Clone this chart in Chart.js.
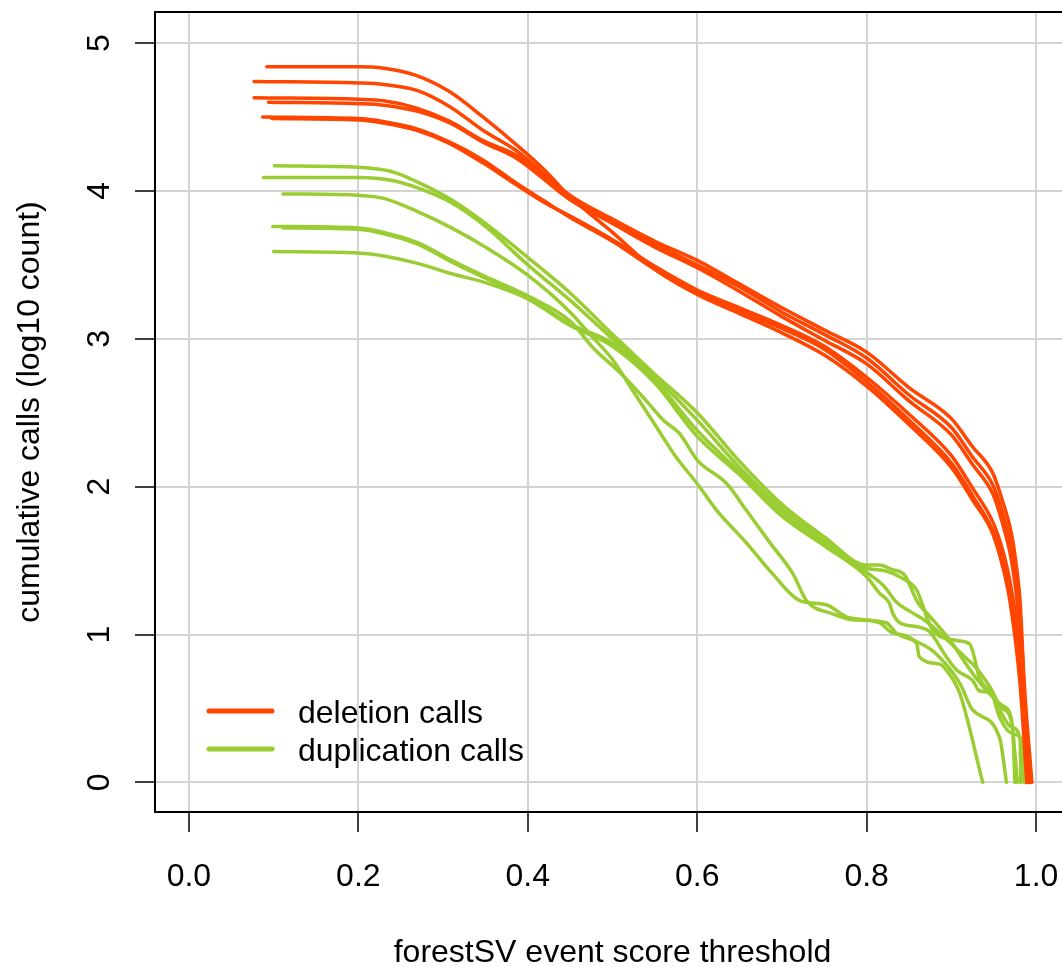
<!DOCTYPE html>
<html>
<head>
<meta charset="utf-8">
<script src="https://cdn.jsdelivr.net/npm/chart.js@4/dist/chart.umd.min.js"></script>
<style>
    html, body { margin: 0; padding: 0; background: #fff; overflow: hidden; }
    #contenedor { width: 1080px; height: 967px; }
</style>
</head>
<body>
<div id="contenedor"><canvas id="umbral" width="1080" height="967"></canvas></div>
<script>
// EJES
const ticksX = [0, 0.2, 0.4, 0.6, 0.8, 1.0];
const etiquetasX = ['0.0', '0.2', '0.4', '0.6', '0.8', '1.0'];
const ticksY = [0, 1, 2, 3, 4, 5];
const etiquetasY = ['0', '1', '2', '3', '4', '5'];
const tituloX = 'forestSV event score threshold';
const tituloY = 'cumulative calls (log10 count)';
const leyenda = ['deletion calls', 'duplication calls'];

// DELECIONES: [umbral, log10 llamadas acumuladas]
const del1 = [[0.092,4.84],[0.2,4.84],[0.23,4.83],[0.269,4.78],[0.308,4.67],[0.347,4.50],[0.387,4.31],[0.42,4.14],[0.45,3.96],[0.5,3.72],[0.55,3.47],[0.6,3.30],[0.65,3.17],[0.7,3.04],[0.75,2.89],[0.8,2.68],[0.85,2.42],[0.9,2.13],[0.925,1.91],[0.949,1.68],[0.961,1.45],[0.969,1.23],[0.981,0.67],[0.989,0]];
const del2 = [[0.077,4.74],[0.2,4.73],[0.23,4.72],[0.269,4.68],[0.308,4.57],[0.347,4.41],[0.387,4.27],[0.45,3.97],[0.5,3.81],[0.55,3.66],[0.6,3.53],[0.65,3.37],[0.7,3.21],[0.75,3.06],[0.8,2.91],[0.85,2.67],[0.9,2.46],[0.925,2.27],[0.949,2.09],[0.96,1.91],[0.971,1.68],[0.977,1.45],[0.981,1.23],[0.986,0.67],[0.995,0]];
const del3 = [[0.077,4.63],[0.2,4.62],[0.23,4.61],[0.269,4.56],[0.308,4.47],[0.347,4.34],[0.387,4.24],[0.45,3.96],[0.5,3.79],[0.55,3.64],[0.6,3.50],[0.65,3.35],[0.7,3.18],[0.75,3.03],[0.8,2.87],[0.85,2.62],[0.9,2.40],[0.925,2.20],[0.949,2.01],[0.96,1.83],[0.971,1.58],[0.978,1.30],[0.983,0.95],[0.987,0.5],[0.993,0]];
const del4 = [[0.094,4.60],[0.2,4.59],[0.23,4.58],[0.269,4.54],[0.308,4.46],[0.347,4.33],[0.387,4.22],[0.45,3.94],[0.5,3.78],[0.55,3.62],[0.6,3.48],[0.65,3.32],[0.7,3.15],[0.75,2.99],[0.8,2.83],[0.85,2.58],[0.9,2.35],[0.925,2.15],[0.949,1.95],[0.96,1.76],[0.971,1.50],[0.978,1.20],[0.983,0.85],[0.987,0.45],[0.992,0]];
const del5 = [[0.087,4.50],[0.2,4.49],[0.229,4.47],[0.269,4.42],[0.308,4.33],[0.347,4.21],[0.387,4.05],[0.42,3.93],[0.45,3.82],[0.5,3.66],[0.55,3.47],[0.6,3.31],[0.65,3.19],[0.7,3.07],[0.75,2.93],[0.8,2.71],[0.85,2.45],[0.9,2.16],[0.925,1.94],[0.949,1.70],[0.961,1.50],[0.97,1.27],[0.982,0.72],[0.99,0]];
const del6 = [[0.098,4.49],[0.2,4.48],[0.229,4.46],[0.269,4.41],[0.308,4.32],[0.347,4.19],[0.387,4.04],[0.42,3.92],[0.45,3.83],[0.5,3.67],[0.55,3.49],[0.6,3.33],[0.65,3.21],[0.7,3.09],[0.75,2.95],[0.8,2.74],[0.85,2.49],[0.9,2.21],[0.925,1.99],[0.949,1.76],[0.961,1.56],[0.97,1.33],[0.983,0.78],[0.991,0]];

// DUPLICACIONES
const dup1 = [[0.101,4.17],[0.2,4.16],[0.24,4.13],[0.27,4.06],[0.31,3.94],[0.35,3.78],[0.4,3.55],[0.45,3.31],[0.5,3.03],[0.55,2.76],[0.6,2.50],[0.65,2.17],[0.7,1.88],[0.75,1.66],[0.8,1.47],[0.815,1.47],[0.83,1.44],[0.845,1.40],[0.86,1.22],[0.875,1.12],[0.89,1.02],[0.9,0.95],[0.915,0.82],[0.93,0.70],[0.945,0.60],[0.96,0.52],[0.97,0.45],[0.978,0]];
const dup2 = [[0.088,4.09],[0.2,4.09],[0.24,4.07],[0.27,4.02],[0.31,3.92],[0.35,3.76],[0.4,3.50],[0.45,3.26],[0.5,3.00],[0.55,2.74],[0.6,2.45],[0.65,2.13],[0.7,1.85],[0.75,1.64],[0.8,1.45],[0.823,1.43],[0.839,1.39],[0.859,1.30],[0.866,1.20],[0.872,1.10],[0.878,1.03],[0.906,0.96],[0.921,0.94],[0.925,0.89],[0.933,0.71],[0.949,0.58],[0.957,0.44],[0.972,0.33],[0.983,0.28],[0.986,0]];
const dup3 = [[0.111,3.98],[0.2,3.97],[0.23,3.95],[0.27,3.86],[0.31,3.75],[0.35,3.62],[0.4,3.43],[0.45,3.18],[0.475,3.02],[0.5,2.86],[0.525,2.64],[0.55,2.42],[0.575,2.20],[0.6,2.02],[0.623,1.84],[0.658,1.62],[0.689,1.41],[0.721,1.23],[0.753,1.20],[0.776,1.12],[0.815,1.08],[0.831,1.01],[0.859,0.94],[0.862,0.85],[0.886,0.80],[0.894,0.76],[0.91,0.60],[0.937,0]];
const dup4 = [[0.099,3.76],[0.2,3.75],[0.23,3.72],[0.27,3.65],[0.31,3.53],[0.35,3.42],[0.4,3.29],[0.45,3.12],[0.477,2.94],[0.509,2.77],[0.54,2.58],[0.56,2.45],[0.579,2.36],[0.6,2.18],[0.635,2.02],[0.658,1.84],[0.686,1.62],[0.713,1.41],[0.729,1.23],[0.76,1.14],[0.783,1.10],[0.823,1.08],[0.835,1.01],[0.86,0.95],[0.88,0.88],[0.91,0.67],[0.925,0.49],[0.957,0.30],[0.965,0]];
const dup5 = [[0.111,3.75],[0.2,3.74],[0.23,3.71],[0.27,3.64],[0.31,3.52],[0.35,3.41],[0.4,3.28],[0.45,3.10],[0.5,2.97],[0.55,2.72],[0.6,2.38],[0.65,2.10],[0.7,1.82],[0.75,1.62],[0.8,1.42],[0.82,1.33],[0.835,1.22],[0.85,1.16],[0.87,1.09],[0.89,0.99],[0.91,0.88],[0.93,0.77],[0.945,0.65],[0.96,0.50],[0.972,0.38],[0.975,0]];
const dup6 = [[0.1,3.59],[0.2,3.58],[0.23,3.56],[0.27,3.51],[0.31,3.44],[0.35,3.38],[0.4,3.27],[0.45,3.09],[0.5,2.95],[0.55,2.70],[0.6,2.34],[0.65,2.08],[0.7,1.80],[0.75,1.60],[0.8,1.39],[0.815,1.28],[0.827,1.21],[0.831,1.14],[0.839,1.08],[0.862,1.05],[0.874,1.02],[0.894,0.85],[0.906,0.76],[0.925,0.69],[0.933,0.62],[0.949,0.60],[0.957,0.49],[0.972,0.37],[0.981,0.30],[0.982,0]];

const delecionesSeries = [del1, del2, del3, del4, del5, del6];
const duplicacionesSeries = [dup1, dup2, dup3, dup4, dup5, dup6];

const rojo = '#FF4500';
const verde = '#9ACD32';
const fuente = '"Liberation Sans", Arial, sans-serif';

// Armar un dataset por cada curva (las rojas primero para que queden arriba)
function crearDataset(datos, color) {
    return {
        data: datos,
        borderColor: color,
        borderWidth: 3.5,
        pointRadius: 0,
        fill: false,
        cubicInterpolationMode: 'monotone',
        borderCapStyle: 'round',
        borderJoinStyle: 'round'
    };
}

const datasets = [
    ...delecionesSeries.map(d => crearDataset(d, rojo)),
    ...duplicacionesSeries.map(d => crearDataset(d, verde))
];

// Caja, etiquetas de ejes, titulos y leyenda al estilo de R
const estiloR = {
    id: 'estiloR',
    afterDraw(chart) {
        const { ctx, chartArea: a, scales: { x, y } } = chart;
        ctx.save();
        ctx.strokeStyle = 'black';
        ctx.lineWidth = 2;
        ctx.strokeRect(a.left, a.top, a.right - a.left, a.bottom - a.top);

        ctx.fillStyle = 'black';
        ctx.font = '32px ' + fuente;
        ctx.textAlign = 'center';
        ctx.textBaseline = 'alphabetic';
        ticksX.forEach((v, i) => ctx.fillText(etiquetasX[i], x.getPixelForValue(v), a.bottom + 74));
        ctx.fillText(tituloX, (a.left + a.right) / 2, a.bottom + 150);

        ticksY.forEach((v, i) => {
            ctx.save();
            ctx.translate(a.left - 46, y.getPixelForValue(v));
            ctx.rotate(-Math.PI / 2);
            ctx.fillText(etiquetasY[i], 0, 0);
            ctx.restore();
        });
        ctx.save();
        ctx.translate(a.left - 116, (a.top + a.bottom) / 2);
        ctx.rotate(-Math.PI / 2);
        ctx.fillText(tituloY, 0, 0);
        ctx.restore();

        // Leyenda
        const colores = [rojo, verde];
        ctx.textAlign = 'left';
        leyenda.forEach((texto, i) => {
            const ly = a.bottom - 101 + i * 38;
            ctx.strokeStyle = colores[i];
            ctx.lineWidth = 5;
            ctx.lineCap = 'round';
            ctx.beginPath();
            ctx.moveTo(a.left + 54, ly);
            ctx.lineTo(a.left + 117, ly);
            ctx.stroke();
            ctx.fillStyle = 'black';
            ctx.fillText(texto, a.left + 143, ly + 12);
        });
        ctx.restore();
    }
};

const grafico = new Chart(document.getElementById('umbral').getContext('2d'), {
    type: 'line',
    data: { datasets: datasets },
    options: {
        responsive: false,
        animation: false,
        events: [],
        layout: { padding: { top: 12, right: 10, left: 0, bottom: 0 } },
        plugins: {
            legend: { display: false },
            tooltip: { enabled: false }
        },
        scales: {
            x: {
                type: 'linear',
                min: -0.04,
                max: 1.04,
                afterBuildTicks: scale => { scale.ticks = ticksX.map(v => ({ value: v })); },
                afterFit: scale => { scale.height = 155; },
                ticks: { display: false },
                border: { display: false },
                grid: { color: '#d3d3d3', lineWidth: 2, tickColor: 'black', tickWidth: 1.5, tickLength: 20 }
            },
            y: {
                type: 'linear',
                min: -0.2,
                max: 5.21,
                afterBuildTicks: scale => { scale.ticks = ticksY.map(v => ({ value: v })); },
                afterFit: scale => { scale.width = 155; },
                ticks: { display: false },
                border: { display: false },
                grid: { color: '#d3d3d3', lineWidth: 2, tickColor: 'black', tickWidth: 1.5, tickLength: 20 }
            }
        }
    },
    plugins: [estiloR]
});
</script>
</body>
</html>
